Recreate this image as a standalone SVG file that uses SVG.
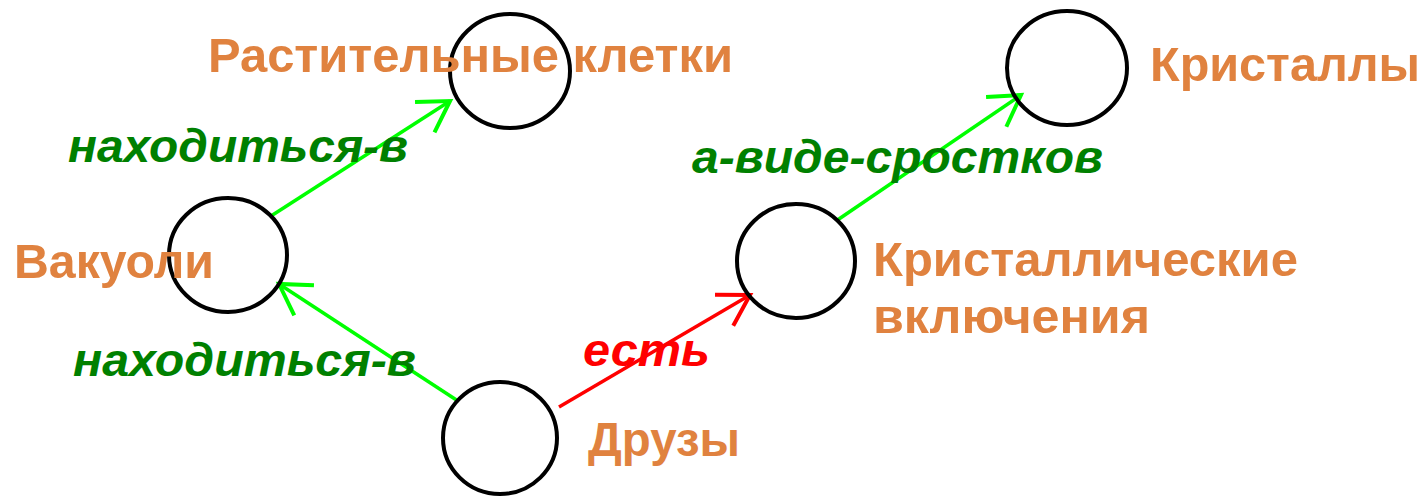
<svg xmlns="http://www.w3.org/2000/svg" width="1424" height="496" viewBox="0 0 1424 496">
<style>
.node ellipse{fill:none;stroke:#000;stroke-width:4}
.nt{font-family:"Liberation Sans",Arial,sans-serif;font-weight:bold;font-size:48px;fill:#E0823F}
.el{font-family:"Liberation Sans",Arial,sans-serif;font-weight:bold;font-style:italic;font-size:46px}
.g{stroke:#00FF00;stroke-width:3.5;fill:none}
.r{stroke:#FF0000;stroke-width:3.5;fill:none}
</style>
<defs>
<marker id="ag" markerUnits="userSpaceOnUse" markerWidth="40" markerHeight="40" viewBox="-34 -20 38 40" refX="0" refY="0" orient="auto" overflow="visible">
<path d="M-30,-18 L0,0 L-30,18" fill="none" stroke="#00FF00" stroke-width="4"/>
</marker>
<marker id="ar" markerUnits="userSpaceOnUse" markerWidth="40" markerHeight="40" viewBox="-34 -20 38 40" refX="0" refY="0" orient="auto" overflow="visible">
<path d="M-30,-18 L0,0 L-30,18" fill="none" stroke="#FF0000" stroke-width="4"/>
</marker>
</defs>
<rect width="1424" height="496" fill="#fff"/>
<g id="connectors">
<line class="g" x1="271" y1="216" x2="450" y2="101" marker-end="url(#ag)"/>
<line class="g" x1="458" y1="401" x2="279" y2="284" marker-end="url(#ag)"/>
<line class="r" x1="559" y1="407" x2="750" y2="295" marker-end="url(#ar)"/>
<line class="g" x1="836" y1="221" x2="1021" y2="95" marker-end="url(#ag)"/>
<text class="el" x="68" y="162" fill="#008000" textLength="340" lengthAdjust="spacingAndGlyphs">находиться-в</text>
<text class="el" x="73" y="376" fill="#008000" textLength="343" lengthAdjust="spacingAndGlyphs">находиться-в</text>
<text class="el" x="583" y="366" fill="#FF0000" textLength="127" lengthAdjust="spacingAndGlyphs">есть</text>
<text class="el" x="692" y="173" fill="#008000" textLength="411" lengthAdjust="spacingAndGlyphs">а-виде-сростков</text>
</g>
<g id="node-rast" class="node">
<ellipse cx="510" cy="71" rx="60" ry="57"/>
<text class="nt" x="208" y="72" textLength="525" lengthAdjust="spacingAndGlyphs">Растительные клетки</text>
</g>
<g id="node-vak" class="node">
<ellipse cx="228" cy="255" rx="59" ry="57"/>
<text class="nt" x="14" y="278" textLength="200" lengthAdjust="spacingAndGlyphs">Вакуоли</text>
</g>
<g id="node-druz" class="node">
<ellipse cx="500" cy="438" rx="57" ry="56"/>
<text class="nt" x="588" y="456" textLength="152" lengthAdjust="spacingAndGlyphs">Друзы</text>
</g>
<g id="node-kv" class="node">
<ellipse cx="796" cy="261" rx="59" ry="57"/>
<text class="nt" x="873" y="276" textLength="425" lengthAdjust="spacingAndGlyphs">Кристаллические</text>
<text class="nt" x="873" y="333" textLength="277" lengthAdjust="spacingAndGlyphs">включения</text>
</g>
<g id="node-kr" class="node">
<ellipse cx="1067" cy="68" rx="60" ry="57"/>
<text class="nt" x="1150" y="81" textLength="270" lengthAdjust="spacingAndGlyphs">Кристаллы</text>
</g>
</svg>
